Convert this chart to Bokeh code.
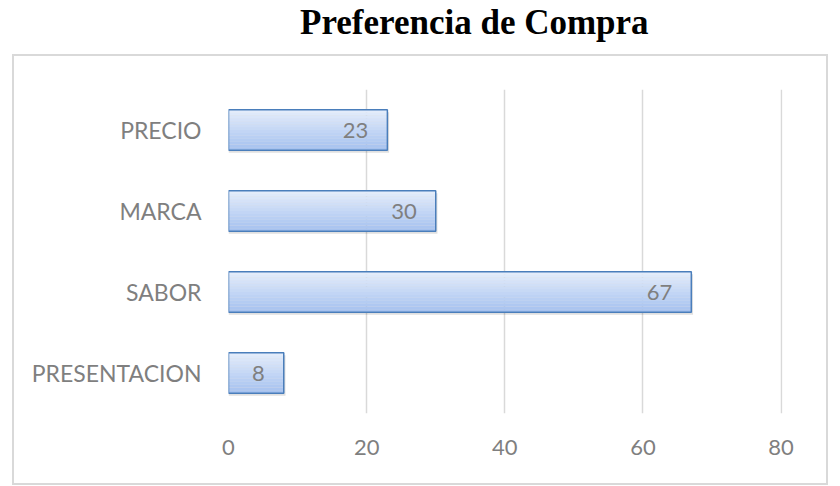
from bokeh.plotting import figure
from bokeh.models import ColumnDataSource, FactorRange, Range1d, FixedTicker, Div
from bokeh.layouts import column
from bokeh.transform import dodge
from bokeh.core.properties import value
from bokeh.embed import file_html
from bokeh.resources import INLINE

# ---- data ----
categories = ["PRESENTACION", "SABOR", "MARCA", "PRECIO"]
values = [8, 67, 30, 23]
x_ticks = [0, 20, 40, 60, 80]
title_text = "Preferencia de Compra"

# ---- style ----
GRAY_TXT = "#7f7f7f"
GRID = "#d9d9d9"
EDGE = "#4a7ebb"
FONT = "Lato"
BAR_H = 0.5
N_SLICES = 14
top_rgb = (0xE3, 0xEC, 0xFB)
bot_rgb = (0xA6, 0xC2, 0xEF)

src = ColumnDataSource(dict(cat=categories, value=values,
                            label=[str(v) for v in values]))

p = figure(width=812, height=427, y_range=FactorRange(*categories, range_padding=0),
           x_range=Range1d(0, 80.2), output_backend="svg", toolbar_location=None,
           min_border_left=214, min_border_right=44, min_border_top=33,
           min_border_bottom=70)
p.margin = (0, 0, 0, 14)
p.styles = {"outline": "2px solid #d9d9d9"}
p.outline_line_color = None
p.background_fill_color = "white"
p.border_fill_color = "white"

# axes
p.xaxis.ticker = FixedTicker(ticks=x_ticks)
for ax in (p.xaxis[0], p.yaxis[0]):
    ax.axis_line_color = None
    ax.major_tick_line_color = None
    ax.minor_tick_line_color = None
    ax.major_label_text_font = FONT
    ax.major_label_text_color = GRAY_TXT
p.xaxis.major_label_text_font_size = "22px"
p.yaxis.major_label_text_font_size = "23px"
p.yaxis.major_label_standoff = 21
p.xaxis.major_label_standoff = 20

p.xgrid.grid_line_color = GRID
p.xgrid.grid_line_width = 1.5
p.ygrid.grid_line_color = None

# shadow
p.hbar(y=dodge("cat", -0.03, range=p.y_range), left=0, right=dodge("value", 0.25),
       height=BAR_H, source=src, fill_color="black", fill_alpha=0.12, line_color=None)

# gradient bar body (slices)
sh = BAR_H / N_SLICES
for i in range(N_SLICES):
    t = i / (N_SLICES - 1)  # 0 bottom -> 1 top
    rgb = tuple(int(round(b + (a - b) * t)) for a, b in zip(top_rgb, bot_rgb))
    col = "#%02x%02x%02x" % rgb
    off = -BAR_H / 2 + (i + 0.5) * sh
    p.hbar(y=dodge("cat", off, range=p.y_range), left=0, right="value",
           height=sh * 1.05, source=src, fill_color=col, line_color=None)

# outline
p.hbar(y="cat", left=0, right="value", height=BAR_H, source=src,
       fill_color=None, line_color=EDGE, line_width=1.5)

# value labels
p.text(x="value", y="cat", text="label", source=src, x_offset=-19,
       text_align="right", text_baseline="middle", text_font=value(FONT),
       text_font_size="22px", text_color=GRAY_TXT)

# title
title = Div(text=('<div style="font-family:\'Liberation Serif\';font-weight:bold;'
                  'font-size:35px;line-height:35px;margin:0;padding:5px 0 0 300px;'
                  'color:black;white-space:nowrap">%s</div>' % title_text),
            width=840, height=56, margin=(0, 0, 0, 0))

layout = column(title, p, spacing=0, margin=(0, 0, 0, 0))
open("out.html", "w").write(file_html(layout, INLINE))
